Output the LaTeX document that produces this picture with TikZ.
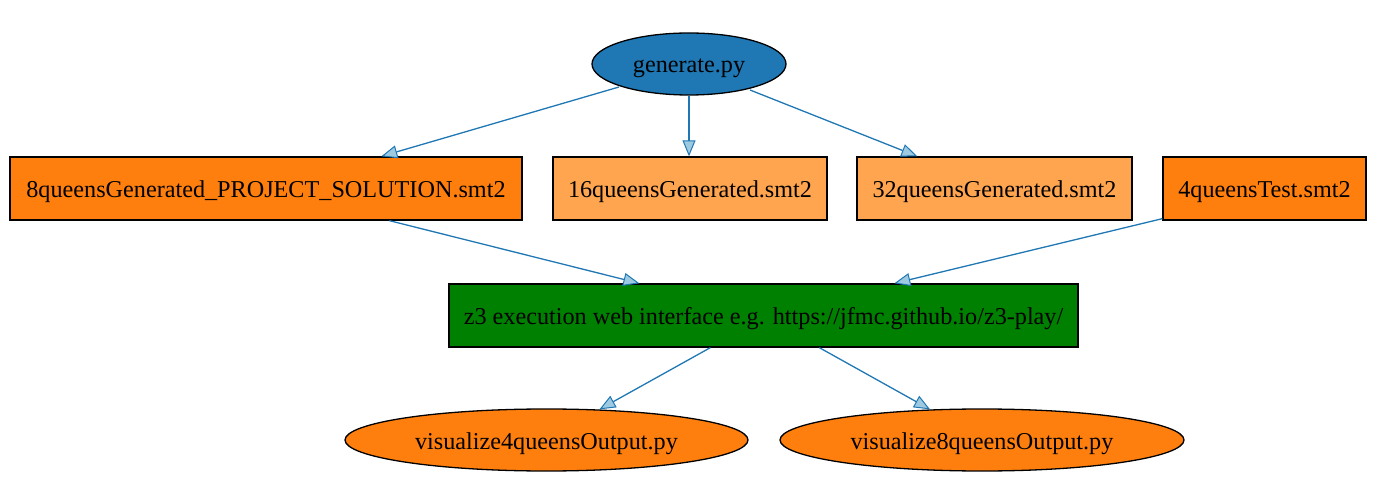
\documentclass[tikz,border=0pt]{standalone}
\usepackage{fontspec}
\setmainfont{Liberation Serif}
\usetikzlibrary{shapes.geometric,arrows.meta,calc}
\definecolor{tblue}{HTML}{1F77B4}
\definecolor{torange}{HTML}{FF7F0E}
\definecolor{lorange}{HTML}{FFA54F}
\definecolor{tgreen}{HTML}{008000}
\definecolor{afill}{HTML}{9ECAE1}
\begin{document}
\begin{tikzpicture}[x=1pt,y=1pt,
  every node/.style={font=\rmfamily\fontsize{24.2}{28}\selectfont, inner sep=0pt, line width=1.3pt, text height=20pt, text depth=2pt},
  ell/.style={ellipse, draw=black, minimum height=62pt},
  boxn/.style={rectangle, draw=black, minimum height=63pt},
  edge/.style={draw=tblue, line width=1.3pt, -{Triangle[length=16pt,width=13pt,fill=afill,line width=1pt]}}]
\useasboundingbox (0,0) rectangle (1384,501);
\node[ell, fill=tblue, minimum width=194pt] (gen) at (689,437) {generate.py};
\node[boxn, fill=torange, minimum width=512pt] (q8) at (266,312.5) {8queensGenerated\_PROJECT\_SOLUTION.smt2};
\node[boxn, fill=lorange, minimum width=274pt] (q16) at (690,312.5) {16queensGenerated.smt2};
\node[boxn, fill=lorange, minimum width=275pt] (q32) at (994.5,312.5) {32queensGenerated.smt2};
\node[boxn, fill=torange, minimum width=203pt] (q4) at (1264.5,312.5) {4queensTest.smt2};
\node[boxn, fill=tgreen, minimum width=629pt] (z3) at (763.5,185.5) {z3 execution web interface e.g. https://jfmc.github.io/z3-play/};
\node[ell, fill=torange, minimum width=403pt] (v4) at (546.5,61) {visualize4queensOutput.py};
\node[ell, fill=torange, minimum width=404pt] (v8) at (982,61) {visualize8queensOutput.py};
\draw[edge] ($(gen.center)+(-70,-23)$) -- ($(q8.north west)+(372,0)$);
\draw[edge] (gen.south) -- (q16.north -| gen.south);
\draw[edge] ($(gen.center)+(61,-26)$) -- ($(q32.north west)+(61,0)$);
\draw[edge] ($(q8.south west)+(380,0)$) -- ($(z3.north west)+(191,0)$);
\draw[edge] ($(q4.south west)+(0,2)$) -- ($(z3.north west)+(446,0)$);
\draw[edge] ($(z3.south west)+(262,0)$) -- ($(v4.north)+(53,-1)$);
\draw[edge] ($(z3.south west)+(371,0)$) -- ($(v8.north)+(-52,-1)$);
\end{tikzpicture}
\end{document}
